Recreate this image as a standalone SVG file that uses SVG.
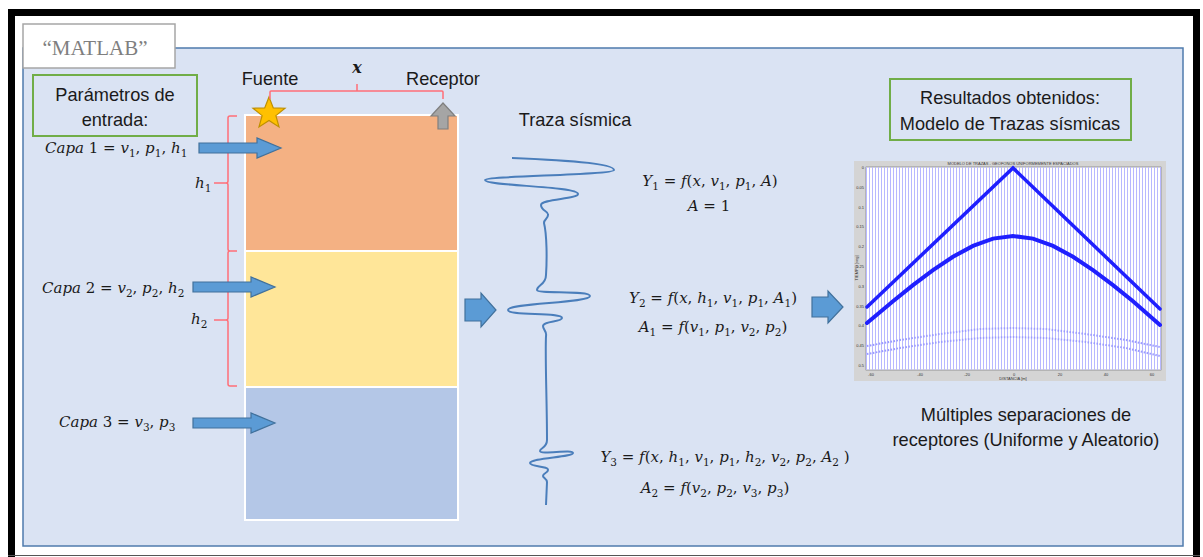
<svg xmlns="http://www.w3.org/2000/svg" width="1203" height="557" viewBox="0 0 1203 557">
<defs>
<style>
.t{font-family:"Liberation Sans",Arial,sans-serif;font-size:18.2px;fill:#1a1a1a}
.m{font-family:"DejaVu Serif","Liberation Serif",serif;font-size:15px;fill:#1a1a1a}
.i{font-style:italic}
.brk{fill:none;stroke:#ff6f78;stroke-width:1.5}
.arr{fill:#5b9bd5;stroke:#41719c;stroke-width:1.2}
.box{fill:none;stroke:#70ad47;stroke-width:2}
.tiny{font-family:"Liberation Sans",Arial,sans-serif;font-size:4px;fill:#333}
</style>
<pattern id="vl" x="866" y="0" width="3" height="10" patternUnits="userSpaceOnUse">
<rect x="0" y="0" width="1" height="10" fill="#b8b8ff"/>
</pattern>
<path id="blockArrow" d="M0,-5 L58,-5 L58,-10 L82,0 L58,10 L58,5 L0,5 Z"/>
</defs>

<!-- outer frame -->
<rect x="0" y="0" width="1203" height="557" fill="#ffffff"/>
<path d="M11.5,557 L11.5,12.5 L1196.5,12.5 L1196.5,557" fill="none" stroke="#000" stroke-width="7"/>
<line x1="8" y1="555.5" x2="1200" y2="555.5" stroke="#555" stroke-width="1"/>

<!-- main panel -->
<g id="panel">
<rect x="23" y="48" width="1160" height="498" fill="#dae3f3" stroke="#4f7bad" stroke-width="1.5"/>
<rect x="23" y="24" width="152" height="44" fill="#ffffff" stroke="#a6a6a6" stroke-width="1.5"/>
<text x="95" y="55" text-anchor="middle" style="font-family:'Liberation Serif',serif;font-size:21px;fill:#7f7f7f">“MATLAB”</text>
</g>

<g id="parametros">
<rect class="box" x="33" y="75" width="164" height="61" fill="#dae3f3"/>
<text class="t" x="115" y="101" text-anchor="middle">Parámetros de</text>
<text class="t" x="115" y="126" text-anchor="middle">entrada:</text>
</g>

<!-- layers -->
<g id="capa1"><rect x="245" y="115" width="213" height="136" fill="#f4b183" stroke="#ffffff" stroke-width="2"/></g>
<g id="capa2"><rect x="245" y="251" width="213" height="136" fill="#ffe699" stroke="#ffffff" stroke-width="2"/></g>
<g id="capa3"><rect x="245" y="387" width="213" height="133" fill="#b4c7e7" stroke="#ffffff" stroke-width="2"/></g>

<!-- source and receiver -->
<g id="fuente">
<polygon points="269,97 273.3,107.9 285,108.2 275.9,115.6 279,126.9 269,120.5 259,126.9 262.1,115.6 253,108.2 264.7,107.9" fill="#ffc000" stroke="#bf9000" stroke-width="1.2"/>
<text class="t" x="270" y="85" text-anchor="middle">Fuente</text>
</g>
<g id="receptor">
<polygon points="443,103 455,116 448,116 448,129 438,129 438,116 431,116" fill="#a5a5a5" stroke="#7f7f7f" stroke-width="1.2"/>
<text class="t" x="443" y="85" text-anchor="middle">Receptor</text>
</g>

<!-- brackets -->
<g id="brackets">
<path class="brk" d="M270,99 L270,92 Q270,91 271,91 L356,91 Q357,91 357,90 L357,84 M357,90 Q357,91 358,91 L442,91 Q443,91 443,92 L443,99"/>
<text x="357" y="73" text-anchor="middle" style="font-family:'DejaVu Serif',serif;font-size:16px;font-style:italic;font-weight:bold;fill:#1a1a1a">x</text>
<path class="brk" d="M237,116 L230,116 Q228,116 228,118 L228,181 Q228,183 226,183 L214,183 M226,183 Q228,183 228,185 L228,249 Q228,251 230,251 L237,251 M230,251 Q228,251 228,253 L228,318 Q228,320 226,320 L214,320 M226,320 Q228,320 228,322 L228,384 Q228,386 230,386 L237,386"/>
<text class="m" x="195" y="188"><tspan class="i">h</tspan><tspan font-size="10.5" dy="4">1</tspan></text>
<text class="m" x="191" y="324"><tspan class="i">h</tspan><tspan font-size="10.5" dy="4">2</tspan></text>
</g>

<!-- layer labels -->
<g id="label1">
<text class="m" x="45" y="153"><tspan class="i">Capa</tspan> 1 = <tspan class="i">v</tspan><tspan font-size="10.5" dy="4">1</tspan><tspan dy="-4">, </tspan><tspan class="i">p</tspan><tspan font-size="10.5" dy="4">1</tspan><tspan dy="-4">, </tspan><tspan class="i">h</tspan><tspan font-size="10.5" dy="4">1</tspan></text>
</g>
<g id="label2">
<text class="m" x="42" y="293"><tspan class="i">Capa</tspan> 2 = <tspan class="i">v</tspan><tspan font-size="10.5" dy="4">2</tspan><tspan dy="-4">, </tspan><tspan class="i">p</tspan><tspan font-size="10.5" dy="4">2</tspan><tspan dy="-4">, </tspan><tspan class="i">h</tspan><tspan font-size="10.5" dy="4">2</tspan></text>
</g>
<g id="label3">
<text class="m" x="59" y="427"><tspan class="i">Capa</tspan> 3 = <tspan class="i">v</tspan><tspan font-size="10.5" dy="4">3</tspan><tspan dy="-4">, </tspan><tspan class="i">p</tspan><tspan font-size="10.5" dy="4">3</tspan></text>
</g>

<!-- connectors -->
<g id="connectors">
<use href="#blockArrow" class="arr" transform="translate(199,148)"/>
<use href="#blockArrow" class="arr" transform="translate(193,287)"/>
<use href="#blockArrow" class="arr" transform="translate(193,423)"/>
<path class="arr" d="M465,299 L481,299 L481,293 L496,310 L481,327 L481,321 L465,321 Z"/>
<path class="arr" d="M812,297 L828,297 L828,291 L843,307 L828,323 L828,317 L812,317 Z"/>
</g>

<!-- seismic trace -->
<g id="traza">
<text class="t" x="575" y="126" text-anchor="middle">Traza sísmica</text>
<path d="M512,158 C560,160 614,163 614,170 C614,175 485,176 485,180 C485,186 578,186 578,194 C578,199 541,199 541,205 C541,211 549,211 548,215 C548,219 544,219 544,223 C547,235 547,260 546,275 C546,285 537,285 537,290 C537,294 590,290 590,296 C590,303 508,303 508,310 C508,316 562,312 562,318 C562,322 543,321 543,326 C543,330 547,331 546,336 C545,360 547,400 547,440 C547,448 540,448 540,451 C540,455 573,449 573,453 C573,457 530,458 530,463 C530,467 549,466 548,470 C548,473 543,473 543,476 C543,478 547,479 547,482 L546,505" fill="none" stroke="#4a7ebb" stroke-width="2"/>
</g>

<!-- equations -->
<g id="ecuaciones">
<text class="m" x="710" y="186" text-anchor="middle"><tspan class="i">Y</tspan><tspan font-size="10.5" dy="4">1</tspan><tspan dy="-4"> = </tspan><tspan class="i">f</tspan>(<tspan class="i">x</tspan>, <tspan class="i">v</tspan><tspan font-size="10.5" dy="4">1</tspan><tspan dy="-4">, </tspan><tspan class="i">p</tspan><tspan font-size="10.5" dy="4">1</tspan><tspan dy="-4">, </tspan><tspan class="i">A</tspan>)</text>
<text class="m" x="709" y="211" text-anchor="middle"><tspan class="i">A</tspan> = 1</text>
<text class="m" x="713" y="303" text-anchor="middle"><tspan class="i">Y</tspan><tspan font-size="10.5" dy="4">2</tspan><tspan dy="-4"> = </tspan><tspan class="i">f</tspan>(<tspan class="i">x</tspan>, <tspan class="i">h</tspan><tspan font-size="10.5" dy="4">1</tspan><tspan dy="-4">, </tspan><tspan class="i">v</tspan><tspan font-size="10.5" dy="4">1</tspan><tspan dy="-4">, </tspan><tspan class="i">p</tspan><tspan font-size="10.5" dy="4">1</tspan><tspan dy="-4">, </tspan><tspan class="i">A</tspan><tspan font-size="10.5" dy="4">1</tspan><tspan dy="-4">)</tspan></text>
<text class="m" x="713" y="332" text-anchor="middle"><tspan class="i">A</tspan><tspan font-size="10.5" dy="4">1</tspan><tspan dy="-4"> = </tspan><tspan class="i">f</tspan>(<tspan class="i">v</tspan><tspan font-size="10.5" dy="4">1</tspan><tspan dy="-4">, </tspan><tspan class="i">p</tspan><tspan font-size="10.5" dy="4">1</tspan><tspan dy="-4">, </tspan><tspan class="i">v</tspan><tspan font-size="10.5" dy="4">2</tspan><tspan dy="-4">, </tspan><tspan class="i">p</tspan><tspan font-size="10.5" dy="4">2</tspan><tspan dy="-4">)</tspan></text>
<text class="m" x="725" y="462" text-anchor="middle"><tspan class="i">Y</tspan><tspan font-size="10.5" dy="4">3</tspan><tspan dy="-4"> = </tspan><tspan class="i">f</tspan>(<tspan class="i">x</tspan>, <tspan class="i">h</tspan><tspan font-size="10.5" dy="4">1</tspan><tspan dy="-4">, </tspan><tspan class="i">v</tspan><tspan font-size="10.5" dy="4">1</tspan><tspan dy="-4">, </tspan><tspan class="i">p</tspan><tspan font-size="10.5" dy="4">1</tspan><tspan dy="-4">, </tspan><tspan class="i">h</tspan><tspan font-size="10.5" dy="4">2</tspan><tspan dy="-4">, </tspan><tspan class="i">v</tspan><tspan font-size="10.5" dy="4">2</tspan><tspan dy="-4">, </tspan><tspan class="i">p</tspan><tspan font-size="10.5" dy="4">2</tspan><tspan dy="-4">, </tspan><tspan class="i">A</tspan><tspan font-size="10.5" dy="4">2</tspan><tspan dy="-4"> )</tspan></text>
<text class="m" x="715" y="493" text-anchor="middle"><tspan class="i">A</tspan><tspan font-size="10.5" dy="4">2</tspan><tspan dy="-4"> = </tspan><tspan class="i">f</tspan>(<tspan class="i">v</tspan><tspan font-size="10.5" dy="4">2</tspan><tspan dy="-4">, </tspan><tspan class="i">p</tspan><tspan font-size="10.5" dy="4">2</tspan><tspan dy="-4">, </tspan><tspan class="i">v</tspan><tspan font-size="10.5" dy="4">3</tspan><tspan dy="-4">, </tspan><tspan class="i">p</tspan><tspan font-size="10.5" dy="4">3</tspan><tspan dy="-4">)</tspan></text>
</g>

<!-- results -->
<g id="resultados">
<rect class="box" x="890" y="79" width="241" height="61"/>
<text class="t" x="1010" y="104" text-anchor="middle">Resultados obtenidos:</text>
<text class="t" x="1010" y="130" text-anchor="middle">Modelo de Trazas sísmicas</text>
</g>

<g id="grafico">
<rect x="854" y="161" width="312" height="220" fill="#d4d4d4"/>
<rect x="866" y="167" width="295" height="203" fill="#ffffff" stroke="#555" stroke-width="0.5"/>
<rect x="866" y="167" width="295" height="203" fill="url(#vl)"/>
<text class="tiny" x="1013" y="165" text-anchor="middle">MODELO DE TRAZAS - GEOFONOS UNIFORMEMENTE ESPACIADOS</text>
<g fill="none" stroke-linecap="butt">
<polyline points="867,346 900,340 940,334 980,329 1013,328 1046,329 1086,334 1126,340 1160,347" stroke="#9a9aff" stroke-width="2" stroke-dasharray="1.5,1.5"/>
<polyline points="867,354 900,348 940,342 980,338 1013,337 1046,338 1086,342 1126,348 1160,356" stroke="#9a9aff" stroke-width="2" stroke-dasharray="1.5,1.5"/>
<polyline points="867,307 1013,168 1160,309" stroke="#1f1fff" stroke-width="3.5" stroke-linecap="round"/>
<polyline points="867,323 893,301.2 913,285.1 933,270.2 953,256.8 973,245.9 993,238.6 1013,236 1033,238.6 1053,245.9 1073,256.8 1093,270.2 1113,285.1 1133,301.2 1160,325" stroke="#1f1fff" stroke-width="4" stroke-linecap="round"/>
</g>
<g class="tiny" text-anchor="end">
<text x="864" y="169">0</text><text x="864" y="189">0.05</text><text x="864" y="209">0.1</text><text x="864" y="228">0.15</text><text x="864" y="248">0.2</text><text x="864" y="268">0.25</text><text x="864" y="288">0.3</text><text x="864" y="308">0.35</text><text x="864" y="327">0.4</text><text x="864" y="347">0.45</text><text x="864" y="367">0.5</text>
</g>
<g class="tiny" text-anchor="middle">
<text x="871" y="376">-60</text><text x="920" y="376">-40</text><text x="967" y="376">-20</text><text x="1014" y="376">0</text><text x="1060" y="376">20</text><text x="1106" y="376">40</text><text x="1152" y="376">60</text>
<text x="1013" y="380">DISTANCIA [m]</text>
<text x="858" y="268" transform="rotate(-90 858 268)">TIEMPO [seg]</text>
</g>
</g>

<g id="nota">
<text class="t" x="1026" y="421" text-anchor="middle">Múltiples separaciones de</text>
<text class="t" x="1026" y="446" text-anchor="middle">receptores (Uniforme y Aleatorio)</text>
</g>
</svg>
